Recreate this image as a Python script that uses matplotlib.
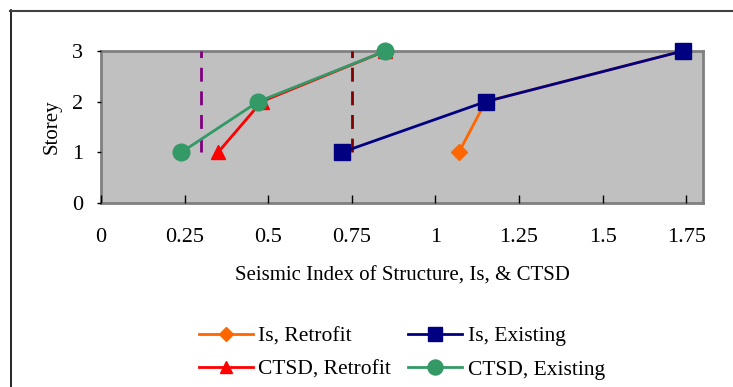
import matplotlib.pyplot as plt
from matplotlib.lines import Line2D

plt.rcParams['font.family'] = ['Liberation Serif', 'DejaVu Serif']

storey = [1, 2, 3]
is_retrofit = [1.07, 1.15, 1.74]
is_existing = [0.72, 1.15, 1.74]
ctsd_retrofit = [0.35, 0.48, 0.85]
ctsd_existing = [0.24, 0.47, 0.85]
limit_ctsd = 0.30
limit_is = 0.75
xticks = [0, 0.25, 0.5, 0.75, 1, 1.25, 1.5, 1.75]
xtick_labels = ['0', '0.25', '0.5', '0.75', '1', '1.25', '1.5', '1.75']

fig = plt.figure(figsize=(7.33, 3.87), dpi=100)
ax = fig.add_axes([101 / 733, 1 - 203 / 387, 602 / 733, 152 / 387])
ax.set_facecolor('#c0c0c0')

# outer chart frame (left and top edges only)
fig.add_artist(Line2D([10.5 / 733, 10.5 / 733], [0, 1 - 10 / 387], color='black', lw=1.2))
fig.add_artist(Line2D([10 / 733, 1], [1 - 10.5 / 387, 1 - 10.5 / 387], color='#404040', lw=1.5))

ax.plot([limit_ctsd, limit_ctsd], [1, 3], color='#800080', lw=2, ls=(0, (5, 3.5)))
ax.plot([limit_is, limit_is], [1, 3], color='#800000', lw=2, ls=(0, (5, 3.5)))

ax.plot(is_retrofit, storey, color='#ff6600', lw=2, marker='D', ms=8, label='Is, Retrofit')
ax.plot(ctsd_retrofit, storey, color='#ff0000', lw=2, marker='^', ms=10, label='CTSD, Retrofit')
ax.plot(is_existing, storey, color='#000080', lw=2, marker='s', ms=11, label='Is, Existing')
ax.plot(ctsd_existing, storey, color='#339966', lw=2, marker='o', ms=12, label='CTSD, Existing')

ax.set_xlim(0, 1.8)
ax.set_ylim(0, 3)
ax.set_xticks(xticks)
ax.set_xticklabels(xtick_labels)
ax.set_yticks([0, 1, 2, 3])
for s in ax.spines.values():
    s.set_color('#808080')
    s.set_linewidth(2)
    s.set_zorder(0.5)
ax.tick_params(axis='x', direction='in', length=6, width=1, color='black', labelsize=16, pad=18)
ax.tick_params(axis='y', direction='out', length=3, width=1, color='black', labelsize=16, pad=10)
for c in ax.get_children():
    if isinstance(c, Line2D):
        c.set_clip_on(False)

ax.set_xlabel('Seismic Index of Structure, Is, & CTSD', fontsize=15, labelpad=14)
ax.set_ylabel('Storey', fontsize=15, labelpad=7)

h, l = ax.get_legend_handles_labels()
leg = fig.legend(h, l, ncol=2, loc='center',
                 bbox_to_anchor=(402 / 733, 1 - 353 / 387), frameon=False, fontsize=15.5,
                 handlelength=2.5, columnspacing=0.8, handletextpad=0.25, labelspacing=0.62,
                 markerscale=0.9)

plt.savefig('out.png', dpi=100)
plt.close()
